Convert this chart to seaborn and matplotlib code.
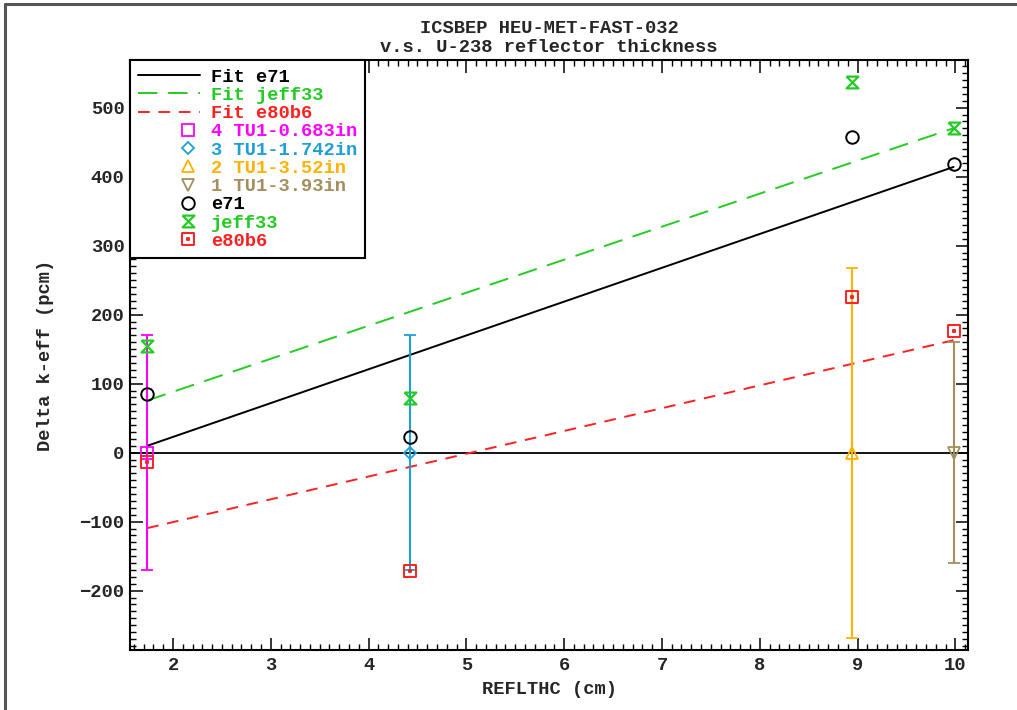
import numpy as np
import matplotlib
matplotlib.use("Agg")
import matplotlib.pyplot as plt
import seaborn as sns
import pandas as pd
from matplotlib.path import Path
from matplotlib.lines import Line2D
from matplotlib.ticker import MultipleLocator
from matplotlib.legend_handler import HandlerLine2D

# ---- data ----
x_cm = [1.735, 4.425, 8.941, 9.982]
exp_labels = ["4 TU1-0.683in", "3 TU1-1.742in", "2 TU1-3.52in", "1 TU1-3.93in"]
exp_vals = [0, 0, 0, 0]
exp_err = [170, 170, 268, 160]
e71 = [85, 23, 457, 419]
jeff33 = [154, 79, 537, 470]
e80b6 = [-13, -171, 226, 176]

exp_colors = ["#FF00FF", "#1E9FD6", "#FFB300", "#A38F5C"]
exp_markers = ["s", "D", "^", "v"]
c_e71, c_jeff, c_e80 = "black", "#22CC22", "#FF2020"

FS = 13.5

sns.set_theme(style="ticks")
plt.rcParams["font.family"] = ["Liberation Mono", "DejaVu Sans"]
plt.rcParams["font.weight"] = "bold"

fig = plt.figure(figsize=(10.17, 7.10), dpi=100)
ax = fig.add_axes([130/1017, 1-650/710, (968-130)/1017, (650-60)/710])

# custom markers
hourglass = Path([(-1, 1), (1, 1), (-1, -1), (1, -1), (-1, 1)],
                 [Path.MOVETO, Path.LINETO, Path.LINETO, Path.LINETO, Path.LINETO])
d = 0.12
sqdot = Path([(-1, -1), (1, -1), (1, 1), (-1, 1), (-1, -1),
              (-d, -d), (d, -d), (d, d), (-d, d), (-d, -d)],
             [Path.MOVETO, Path.LINETO, Path.LINETO, Path.LINETO, Path.CLOSEPOLY,
              Path.MOVETO, Path.LINETO, Path.LINETO, Path.LINETO, Path.CLOSEPOLY])

x = np.array(x_cm)
w = 1.0 / np.array(exp_err, dtype=float)

# zero line
ax.axhline(0, color="black", lw=1.3, zorder=1)

# weighted linear fits
fits = [("Fit e71", e71, c_e71, None), ("Fit jeff33", jeff33, c_jeff, (10, 5.5)),
        ("Fit e80b6", e80b6, c_e80, (6, 4.5))]
xs = np.array([x[0], x[-1]])
for lab, yv, col, dash in fits:
    p = np.polyfit(x, np.array(yv, float), 1, w=w)
    df = pd.DataFrame({"x": xs, "y": np.polyval(p, xs)})
    sns.lineplot(data=df, x="x", y="y", ax=ax, color=col, lw=1.4, zorder=2)
    if dash is not None:
        ax.lines[-1].set_dashes(dash)

# experiment points with error bars
for xi, yi, ei, col, mk in zip(x_cm, exp_vals, exp_err, exp_colors, exp_markers):
    ax.errorbar([xi], [yi], yerr=[ei], color=col, lw=1.5, capsize=4, capthick=1.5,
                marker=mk, ms=8 if mk != "D" else 6.5, mfc="none", mec=col, mew=1.3,
                zorder=3)

# calculation points
ax.plot(x_cm, e71, ls="none", marker="o", ms=9, mfc="none", mec=c_e71, mew=1.4, zorder=4)
ax.plot(x_cm, jeff33, ls="none", marker=hourglass, ms=8.5, mfc="none", mec=c_jeff, mew=1.6, zorder=4)
ax.plot(x_cm, e80b6, ls="none", marker=sqdot, ms=9, mfc="none", mec=c_e80, mew=1.4, zorder=4)

ax.set_xlim(1.56, 10.13)
ax.set_ylim(-286, 569)

ax.xaxis.set_major_locator(MultipleLocator(1))
ax.xaxis.set_minor_locator(MultipleLocator(0.1))
ax.yaxis.set_major_locator(MultipleLocator(100))
ax.yaxis.set_minor_locator(MultipleLocator(10))
ax.tick_params(which="both", direction="in", top=True, right=True, color="black")
ax.tick_params(which="major", length=9, width=1.1, labelsize=FS)
ax.tick_params(axis="x", which="major", pad=5)
ax.tick_params(axis="y", which="major", pad=4)
ax.tick_params(which="minor", length=4, width=1.0)
for s in ax.spines.values():
    s.set_color("black")
    s.set_linewidth(1.5)
for t in ax.get_xticklabels() + ax.get_yticklabels():
    t.set_fontweight("bold")

ax.set_xlabel("REFLTHC (cm)", fontsize=FS, fontweight="bold", labelpad=5)
ax.set_ylabel("Delta k-eff (pcm)", fontsize=FS, fontweight="bold", labelpad=18)
ax.set_title("ICSBEP HEU-MET-FAST-032\nv.s. U-238 reflector thickness",
             fontsize=FS, fontweight="bold", pad=6, linespacing=1.15)


class RightMarkerHandler(HandlerLine2D):
    def get_xdata(self, legend, xdescent, ydescent, width, height, fontsize):
        xd = np.array([-xdescent + 0.6 * width, -xdescent + width], float)
        xm = np.array([-xdescent + 0.8 * width], float)
        return xd, xm


# legend
handles = [
    Line2D([], [], color=c_e71, lw=1.4),
    Line2D([], [], color=c_jeff, lw=1.4, dashes=(10, 5.5)),
    Line2D([], [], color=c_e80, lw=1.4, dashes=(6, 4.5)),
]
for col, mk in zip(exp_colors, exp_markers):
    handles.append(Line2D([], [], ls="none", marker=mk, ms=8 if mk != "D" else 6.5,
                          mfc="none", mec=col, mew=1.3))
handles.append(Line2D([], [], ls="none", marker="o", ms=9, mfc="none", mec=c_e71, mew=1.4))
handles.append(Line2D([], [], ls="none", marker=hourglass, ms=8.5, mfc="none", mec=c_jeff, mew=1.6))
handles.append(Line2D([], [], ls="none", marker=sqdot, ms=9, mfc="none", mec=c_e80, mew=1.4))
labels = ["Fit e71", "Fit jeff33", "Fit e80b6"] + exp_labels + ["e71", "jeff33", "e80b6"]
colors = [c_e71, c_jeff, c_e80] + exp_colors + [c_e71, c_jeff, c_e80]

hmap = {h: RightMarkerHandler() for h in handles[3:]}
leg = ax.legend(handles, labels, loc="upper left", bbox_to_anchor=(0, 1),
                borderaxespad=0, fancybox=False, framealpha=1, edgecolor="black",
                handlelength=3.3, handletextpad=0.55, labelspacing=0.06,
                borderpad=0.45, numpoints=1, handler_map=hmap,
                prop={"weight": "bold", "size": FS})
leg.get_frame().set_linewidth(1.5)
for t, c in zip(leg.get_texts(), colors):
    t.set_color(c)

# figure border (top and left)
fig.add_artist(Line2D([5/1017, 1], [1-4/710, 1-4/710], color="#555555", lw=2.2,
                      transform=fig.transFigure))
fig.add_artist(Line2D([5/1017, 5/1017], [0, 1-4/710], color="#555555", lw=2.2,
                      transform=fig.transFigure))

fig.savefig("out.png", dpi=100)
